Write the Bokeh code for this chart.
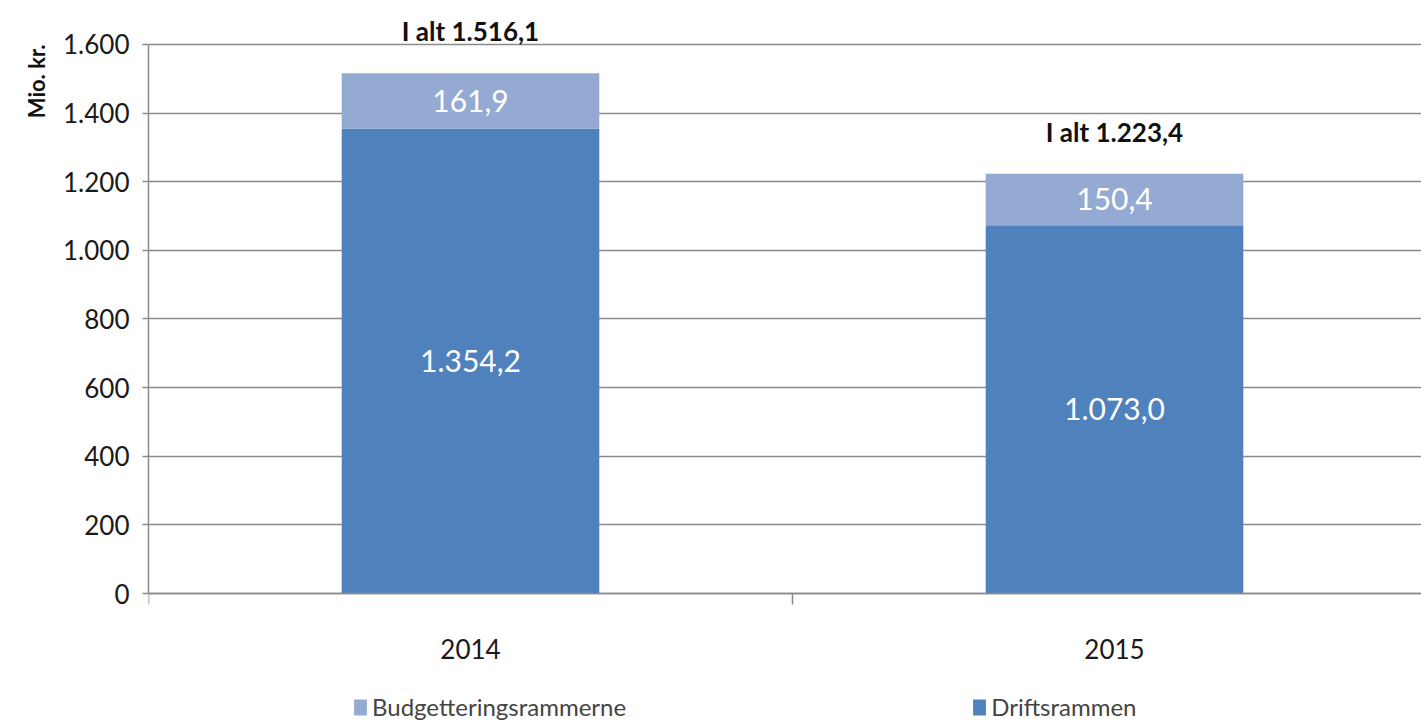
from bokeh.plotting import figure
from bokeh.models import (Range1d, FixedTicker, ColumnDataSource, LabelSet, Title,
                          Legend, LegendItem)
from bokeh.embed import file_html
from bokeh.resources import INLINE
from bokeh.core.properties import value

# ---------------- data ----------------
categories = ["2014", "2015"]
driftsrammen = [1354.2, 1073.0]
budgetteringsrammerne = [161.9, 150.4]
series_names = ["Budgetteringsrammerne", "Driftsrammen"]
y_ticks = [0, 200, 400, 600, 800, 1000, 1200, 1400, 1600]
y_tick_labels = ["0", "200", "400", "600", "800", "1.000", "1.200", "1.400", "1.600"]
y_axis_title = "Mio. kr."
total_prefix = "I alt"

# ---------------- styling ----------------
DARK = "#4F81BD"
LIGHT = "#95AAD2"
GRID = "#8a8a8a"
FONT = "Lato"


def dk(v):
    s = f"{v:,.1f}"
    return s.replace(",", "X").replace(".", ",").replace("X", ".")


xs = [i + 0.5 for i in range(len(categories))]
totals = [a + b for a, b in zip(driftsrammen, budgetteringsrammerne)]

src = ColumnDataSource(dict(x=xs, drift=driftsrammen, budget=budgetteringsrammerne))

# frame spans the whole canvas height; the value axis runs 0..1600 inside it
p = figure(width=1421, height=725, x_range=Range1d(0, 1.9767), y_range=Range1d(-384.6, 1728),
           output_backend="svg", toolbar_location=None,
           min_border_left=148, min_border_right=0, min_border_top=0, min_border_bottom=0)
p.outline_line_color = None
p.background_fill_color = "white"

renderers = p.vbar_stack(["drift", "budget"], x="x", width=0.4, color=[DARK, LIGHT],
                         line_color=None, source=src)
r_drift, r_budget = renderers

# grid
p.xgrid.visible = False
p.ygrid.ticker = FixedTicker(ticks=y_ticks)
p.ygrid.grid_line_color = GRID
p.ygrid.grid_line_width = 1.5

# y axis
p.yaxis.ticker = FixedTicker(ticks=y_ticks)
p.yaxis.bounds = (y_ticks[0], y_ticks[-1])
p.yaxis.major_label_overrides = dict(zip(y_ticks, y_tick_labels))
p.yaxis.axis_line_color = GRID
p.yaxis.axis_line_width = 1.5
p.yaxis.major_tick_line_color = GRID
p.yaxis.major_tick_line_width = 1.5
p.yaxis.major_tick_in = 0
p.yaxis.major_tick_out = 6
p.yaxis.minor_tick_line_color = None
p.yaxis.major_label_standoff = 13
p.yaxis.major_label_text_font = FONT
p.yaxis.major_label_text_font_size = "26px"
p.yaxis.major_label_text_color = "#1a1a1a"

# y axis title (left panel, aligned to the top)
p.add_layout(Title(text=y_axis_title, align="right", text_font=FONT, text_font_style="bold",
                   text_font_size="22px", text_color="#111111", standoff=22, offset=44),
             "left")

# x axis, fixed at value 0
p.xaxis.fixed_location = 0
p.xaxis.ticker = FixedTicker(ticks=xs, minor_ticks=list(range(len(categories) + 1)))
p.xaxis.major_label_overrides = dict(zip(xs, categories))
p.xaxis.axis_line_color = GRID
p.xaxis.axis_line_width = 1.5
p.xaxis.major_tick_line_color = None
p.xaxis.major_tick_out = 0
p.xaxis.major_tick_in = 0
p.xaxis.minor_tick_line_color = GRID
p.xaxis.minor_tick_line_width = 1.5
p.xaxis.minor_tick_in = 0
p.xaxis.minor_tick_out = 11
p.xaxis.major_label_standoff = 34
p.xaxis.major_label_text_font = FONT
p.xaxis.major_label_text_font_size = "26px"
p.xaxis.major_label_text_color = "#1a1a1a"

# segment labels
seg_x = xs + xs
seg_y = [d / 2 for d in driftsrammen] + [d + b / 2 for d, b in zip(driftsrammen, budgetteringsrammerne)]
seg_t = [dk(v) for v in driftsrammen] + [dk(v) for v in budgetteringsrammerne]
seg_src = ColumnDataSource(dict(x=seg_x, y=seg_y, text=seg_t))
p.add_layout(LabelSet(x="x", y="y", text="text", source=seg_src,
                      text_align="center", text_baseline="middle",
                      text_color="white", text_font_size="30px", text_font=value(FONT)))

# total labels
tot_src = ColumnDataSource(dict(x=xs, y=totals, text=[f"{total_prefix} {dk(t)}" for t in totals]))
p.add_layout(LabelSet(x="x", y="y", text="text", source=tot_src, y_offset=26,
                      text_align="center", text_baseline="bottom",
                      text_color="#111111", text_font_size="26px", text_font=value(FONT),
                      text_font_style="bold"))

# legend at the bottom
legend = Legend(items=[LegendItem(label=series_names[0], renderers=[r_budget]),
                       LegendItem(label=series_names[1], renderers=[r_drift])],
                orientation="horizontal", location=(204, 4), spacing=345,
                border_line_color=None, background_fill_alpha=0, padding=0, margin=0,
                label_text_font=FONT, label_text_font_size="24px",
                glyph_width=16, glyph_height=20, label_standoff=4)
p.add_layout(legend)

open("out.html", "w").write(file_html(p, INLINE))
